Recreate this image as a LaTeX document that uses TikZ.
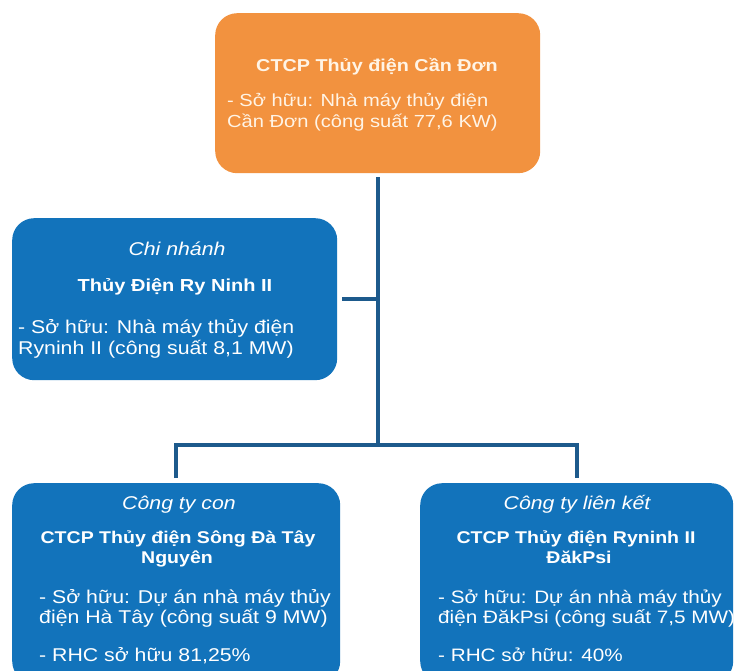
\documentclass[tikz,border=0pt]{standalone}
\usepackage{fontspec}
\setmainfont{Liberation Sans}[FakeStretch=1.15]
\definecolor{orangebox}{HTML}{F2923F}
\definecolor{bluebox}{HTML}{1273BB}
\definecolor{linecol}{HTML}{1D5A8C}
\definecolor{cream}{HTML}{FFF4E6}
\begin{document}
\begin{tikzpicture}[x=1pt,y=-1pt,
  panel/.style={rounded corners=22pt, inner sep=0pt, anchor=north west},
  bluepanel/.style={panel, fill=bluebox},
  orangepanel/.style={panel, fill=orangebox},
  wire/.style={draw=linecol, line width=4pt},
  lbl/.style={inner sep=0pt, text=white, font=\fontsize{18.5}{21}\selectfont},
  ctr/.style={lbl, anchor=base},
  lft/.style={lbl, anchor=base west},
  lftsm/.style={lft, font=\fontsize{18}{21}\selectfont},
  ttl/.style={ctr, font=\fontsize{17}{21}\selectfont\bfseries},
  kind/.style={ctr, font=\fontsize{18.5}{21}\selectfont\itshape},
  otxt/.style={text=cream, font=\fontsize{17.5}{21}\selectfont},
]
\useasboundingbox (0,0) rectangle (736,671);
\clip (0,0) rectangle (736,671);

% boxes
\node[orangepanel, minimum width=325pt, minimum height=160pt] (top) at (215,13) {};
\node[bluepanel, minimum width=325pt, minimum height=162pt] (branch) at (12,218) {};
\node[bluepanel, minimum width=328pt, minimum height=200pt] (sub) at (12,483) {};
\node[bluepanel, minimum width=313pt, minimum height=200pt] (assoc) at (420,483) {};

% connectors
\coordinate (bus) at (377.5,445);
\draw[wire, shorten <=4pt] (top.south) -- (top.south |- bus);
\draw[wire, shorten <=5pt] (branch.east) -- (branch.east -| bus);
\draw[wire, shorten <=5pt, shorten >=5pt] (sub.north) |- (bus) -| (assoc.north);

% top box text
\node[ttl, otxt, font=\fontsize{17.2}{21}\selectfont\bfseries] (t0) at (377,72) {CTCP Thủy điện Cần Đơn};
\node[lft, otxt] (t1) at (227,107) {- Sở hữu: Nhà máy thủy điện};
\node[lft, otxt] (t2) at (227,128) {Cần Đơn (công suất 77,6 KW)};

% branch text
\node[kind] (b1) at (177,255) {Chi nhánh};
\node[ttl, font=\fontsize{17.4}{21}\selectfont\bfseries] (b2) at (175,291) {Thủy Điện Ry Ninh II};
\node[lft] (b3) at (18,333) {- Sở hữu: Nhà máy thủy điện};
\node[lft] (b4) at (18,354) {Ryninh II (công suất 8,1 MW)};

% subsidiary text
\node[kind] (s1) at (179,509) {Công ty con};
\node[ttl] (s2) at (178,543) {CTCP Thủy điện Sông Đà Tây};
\node[ttl] (s3) at (177,563) {Nguyên};
\node[lft] (s4) at (39,603) {- Sở hữu: Dự án nhà máy thủy};
\node[lft] (s5) at (39,623) {điện Hà Tây (công suất 9 MW)};
\node[lft] (s6) at (39,661) {- RHC sở hữu 81,25\%};

% associate text
\node[kind] (a1) at (577,509) {Công ty liên kết};
\node[ttl] (a2) at (576,543) {CTCP Thủy điện Ryninh II};
\node[ttl] (a3) at (579,563) {ĐăkPsi};
\node[lftsm] (a4) at (438,603) {- Sở hữu: Dự án nhà máy thủy};
\node[lftsm] (a5) at (438,623) {điện ĐăkPsi (công suất 7,5 MW)};
\node[lftsm] (a6) at (438,661) {- RHC sở hữu: 40\%};
\end{tikzpicture}
\end{document}
